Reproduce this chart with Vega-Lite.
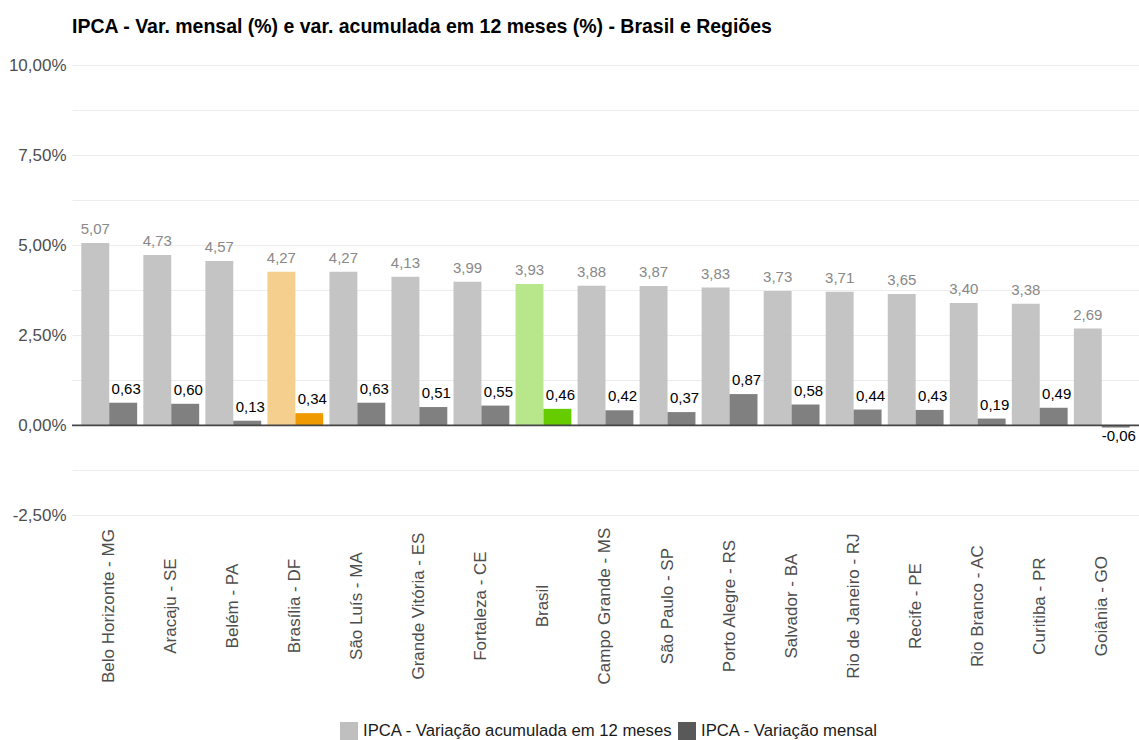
{
  "$schema": "https://vega.github.io/schema/vega-lite/v6.json",
  "width": 1067,
  "height": 471.6,
  "padding": {"left": 8, "top": 17, "right": 0, "bottom": 0},
  "title": {
    "text": "IPCA - Var. mensal (%) e var. acumulada em 12 meses (%) - Brasil e Regiões",
    "anchor": "start",
    "frame": "group",
    "fontSize": 19.5,
    "fontWeight": "bold",
    "font": "Liberation Sans",
    "color": "#000000",
    "offset": -6,
    "baseline": "bottom"
  },
  "config": {
    "view": {"stroke": null},
    "font": "Liberation Sans",
    "locale": {"number": {"decimal": ",", "thousands": ".", "grouping": [3], "currency": ["R$", ""], "minus": "-"}}
  },
  "data": {
    "values": [
      {"regiao": "Belo Horizonte - MG", "serie": "IPCA - Variação acumulada em 12 meses", "valor": 5.07},
      {"regiao": "Belo Horizonte - MG", "serie": "IPCA - Variação mensal", "valor": 0.63},
      {"regiao": "Aracaju - SE", "serie": "IPCA - Variação acumulada em 12 meses", "valor": 4.73},
      {"regiao": "Aracaju - SE", "serie": "IPCA - Variação mensal", "valor": 0.60},
      {"regiao": "Belém - PA", "serie": "IPCA - Variação acumulada em 12 meses", "valor": 4.57},
      {"regiao": "Belém - PA", "serie": "IPCA - Variação mensal", "valor": 0.13},
      {"regiao": "Brasília - DF", "serie": "IPCA - Variação acumulada em 12 meses", "valor": 4.27},
      {"regiao": "Brasília - DF", "serie": "IPCA - Variação mensal", "valor": 0.34},
      {"regiao": "São Luís - MA", "serie": "IPCA - Variação acumulada em 12 meses", "valor": 4.27},
      {"regiao": "São Luís - MA", "serie": "IPCA - Variação mensal", "valor": 0.63},
      {"regiao": "Grande Vitória - ES", "serie": "IPCA - Variação acumulada em 12 meses", "valor": 4.13},
      {"regiao": "Grande Vitória - ES", "serie": "IPCA - Variação mensal", "valor": 0.51},
      {"regiao": "Fortaleza - CE", "serie": "IPCA - Variação acumulada em 12 meses", "valor": 3.99},
      {"regiao": "Fortaleza - CE", "serie": "IPCA - Variação mensal", "valor": 0.55},
      {"regiao": "Brasil", "serie": "IPCA - Variação acumulada em 12 meses", "valor": 3.93},
      {"regiao": "Brasil", "serie": "IPCA - Variação mensal", "valor": 0.46},
      {"regiao": "Campo Grande - MS", "serie": "IPCA - Variação acumulada em 12 meses", "valor": 3.88},
      {"regiao": "Campo Grande - MS", "serie": "IPCA - Variação mensal", "valor": 0.42},
      {"regiao": "São Paulo - SP", "serie": "IPCA - Variação acumulada em 12 meses", "valor": 3.87},
      {"regiao": "São Paulo - SP", "serie": "IPCA - Variação mensal", "valor": 0.37},
      {"regiao": "Porto Alegre - RS", "serie": "IPCA - Variação acumulada em 12 meses", "valor": 3.83},
      {"regiao": "Porto Alegre - RS", "serie": "IPCA - Variação mensal", "valor": 0.87},
      {"regiao": "Salvador - BA", "serie": "IPCA - Variação acumulada em 12 meses", "valor": 3.73},
      {"regiao": "Salvador - BA", "serie": "IPCA - Variação mensal", "valor": 0.58},
      {"regiao": "Rio de Janeiro - RJ", "serie": "IPCA - Variação acumulada em 12 meses", "valor": 3.71},
      {"regiao": "Rio de Janeiro - RJ", "serie": "IPCA - Variação mensal", "valor": 0.44},
      {"regiao": "Recife - PE", "serie": "IPCA - Variação acumulada em 12 meses", "valor": 3.65},
      {"regiao": "Recife - PE", "serie": "IPCA - Variação mensal", "valor": 0.43},
      {"regiao": "Rio Branco - AC", "serie": "IPCA - Variação acumulada em 12 meses", "valor": 3.40},
      {"regiao": "Rio Branco - AC", "serie": "IPCA - Variação mensal", "valor": 0.19},
      {"regiao": "Curitiba - PR", "serie": "IPCA - Variação acumulada em 12 meses", "valor": 3.38},
      {"regiao": "Curitiba - PR", "serie": "IPCA - Variação mensal", "valor": 0.49},
      {"regiao": "Goiânia - GO", "serie": "IPCA - Variação acumulada em 12 meses", "valor": 2.69},
      {"regiao": "Goiânia - GO", "serie": "IPCA - Variação mensal", "valor": -0.06}
    ]
  },
  "layer": [
    {
      "mark": {"type": "bar"},
      "encoding": {
        "x": {
          "field": "regiao", "type": "nominal", "sort": null,
          "scale": {"paddingInner": 0.1, "paddingOuter": 0.15},
          "axis": {
            "title": null, "labelAngle": -90, "labelAlign": "center", "labelBaseline": "middle",
            "labelPadding": 83, "ticks": false, "tickSize": 0, "domain": false, "grid": false,
            "labelFontSize": 17, "labelColor": "#4d4d4d", "labelFont": "Liberation Sans", "labelLimit": 300
          }
        },
        "xOffset": {
          "field": "serie", "type": "nominal",
          "sort": ["IPCA - Variação acumulada em 12 meses", "IPCA - Variação mensal"],
          "scale": {"paddingInner": 0, "paddingOuter": 0}
        },
        "y": {
          "field": "valor", "type": "quantitative",
          "scale": {"domain": [-2.7, 10.4], "nice": false, "zero": false},
          "axis": {
            "title": null,
            "values": [-2.5, -1.25, 0, 1.25, 2.5, 3.75, 5, 6.25, 7.5, 8.75, 10],
            "labelExpr": "datum.value % 2.5 === 0 ? replace(replace(format(datum.value, '.2f'), '.', ','), '\u2212', '-') + '%' : ''",
            "ticks": false, "tickSize": 0, "domain": false, "grid": true,
            "gridColor": "#ececec", "gridWidth": 1,
            "labelFontSize": 17, "labelColor": "#4d4d4d", "labelFont": "Liberation Sans", "labelPadding": 6
          }
        },
        "color": {
          "field": "serie", "type": "nominal",
          "scale": {
            "domain": ["IPCA - Variação acumulada em 12 meses", "IPCA - Variação mensal"],
            "range": ["#bfbfbf", "#595959"]
          },
          "legend": {
            "title": null, "orient": "none", "legendX": 268, "legendY": 671, "direction": "horizontal",
            "symbolType": "square", "symbolSize": 324, "symbolOpacity": 1, "symbolStrokeWidth": 0,
            "labelFontSize": 16.7, "labelFont": "Liberation Sans", "labelColor": "#1a1a1a",
            "columnPadding": 5, "labelOffset": 5, "labelLimit": 500
          },
          "condition": [
            {"test": "datum.regiao === 'Brasília - DF' && datum.serie === 'IPCA - Variação mensal'", "value": "#ef9b00"},
            {"test": "datum.regiao === 'Brasília - DF'", "value": "#f5cf8e"},
            {"test": "datum.regiao === 'Brasil' && datum.serie === 'IPCA - Variação mensal'", "value": "#66cc00"},
            {"test": "datum.regiao === 'Brasil'", "value": "#b8e68b"}
          ]
        },
        "fillOpacity": {
          "condition": [
            {"test": "datum.regiao === 'Brasília - DF' || datum.regiao === 'Brasil'", "value": 1},
            {"test": "datum.serie === 'IPCA - Variação mensal'", "value": 0.765}
          ],
          "value": 0.92
        }
      }
    },
    {
      "transform": [{"filter": "datum.serie === 'IPCA - Variação acumulada em 12 meses'"}],
      "mark": {"type": "text", "fontSize": 15, "color": "#888888", "baseline": "alphabetic", "dy": -9, "font": "Liberation Sans"},
      "encoding": {
        "x": {"field": "regiao", "type": "nominal", "sort": null},
        "xOffset": {"field": "serie", "type": "nominal", "sort": ["IPCA - Variação acumulada em 12 meses", "IPCA - Variação mensal"]},
        "y": {"field": "valor", "type": "quantitative"},
        "text": {"field": "valor", "type": "quantitative", "format": ".2f"}
      }
    },
    {
      "transform": [{"filter": "datum.serie === 'IPCA - Variação mensal' && datum.valor >= 0"}],
      "mark": {"type": "text", "fontSize": 15, "color": "#000000", "baseline": "alphabetic", "dy": -9, "dx": 3, "font": "Liberation Sans"},
      "encoding": {
        "x": {"field": "regiao", "type": "nominal", "sort": null},
        "xOffset": {"field": "serie", "type": "nominal", "sort": ["IPCA - Variação acumulada em 12 meses", "IPCA - Variação mensal"]},
        "y": {"field": "valor", "type": "quantitative"},
        "text": {"field": "valor", "type": "quantitative", "format": ".2f"}
      }
    },
    {
      "transform": [{"filter": "datum.serie === 'IPCA - Variação mensal' && datum.valor < 0"}],
      "mark": {"type": "text", "fontSize": 15, "color": "#000000", "baseline": "alphabetic", "dy": 13, "dx": 3, "font": "Liberation Sans"},
      "encoding": {
        "x": {"field": "regiao", "type": "nominal", "sort": null},
        "xOffset": {"field": "serie", "type": "nominal", "sort": ["IPCA - Variação acumulada em 12 meses", "IPCA - Variação mensal"]},
        "y": {"field": "valor", "type": "quantitative"},
        "text": {"field": "valor", "type": "quantitative", "format": ".2f"}
      }
    },
    {
      "data": {"values": [{"zero": 0}]},
      "mark": {"type": "rule", "color": "#454545", "strokeWidth": 1.6},
      "encoding": {
        "y": {"field": "zero", "type": "quantitative"}
      }
    }
  ]
}
